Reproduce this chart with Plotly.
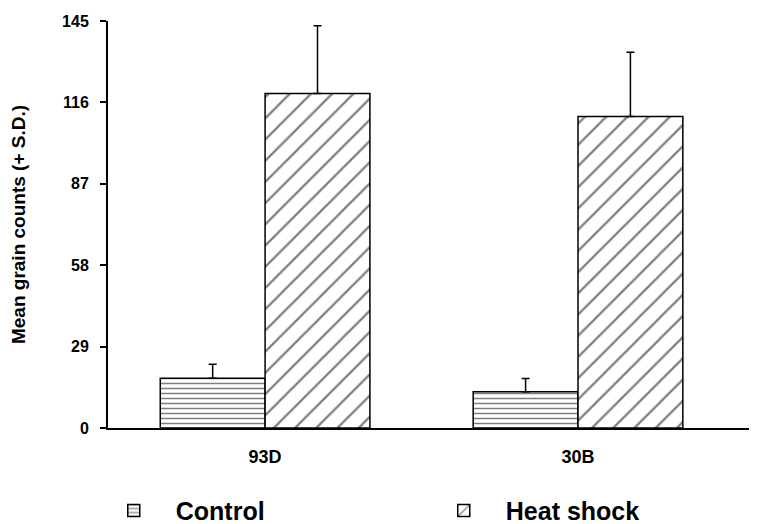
import plotly.graph_objects as go

categories = ["93D", "30B"]
control_mean = [17.7, 12.9]
control_sd = [5.0, 4.7]
heat_mean = [119.2, 111.0]
heat_sd = [24.1, 22.9]
y_ticks = [0, 29, 58, 87, 116, 145]

FONT = "Liberation Sans, Arial, sans-serif"

fig = go.Figure()
fig.add_trace(go.Bar(
    name="Control", x=categories, y=control_mean,
    marker=dict(color="white", line=dict(color="black", width=1.5),
                pattern=dict(shape="-", size=5, solidity=0.3, fgcolor="black", bgcolor="white")),
    error_y=dict(type="data", array=control_sd, arrayminus=[0] * len(control_sd),
                 symmetric=False, color="black", thickness=1.5, width=4),
))
fig.add_trace(go.Bar(
    name="Heat shock", x=categories, y=heat_mean,
    marker=dict(color="white", line=dict(color="black", width=1.5),
                pattern=dict(shape="/", size=15, solidity=0.15, fgcolor="black", bgcolor="white")),
    error_y=dict(type="data", array=heat_sd, arrayminus=[0] * len(heat_sd),
                 symmetric=False, color="black", thickness=1.5, width=4),
))

fig.update_layout(
    width=757, height=524,
    margin=dict(l=100, r=8, t=13, b=104, autoexpand=False),
    paper_bgcolor="white", plot_bgcolor="white",
    barmode="group", bargap=0.33, bargroupgap=0,
    font=dict(family=FONT, color="black"),
    showlegend=True,
    legend=dict(orientation="h", x=-0.025, xanchor="left", y=-0.147, yanchor="top",
                font=dict(size=25, family=FONT, color="black", weight="bold"),
                entrywidth=241, itemwidth=74, traceorder="normal",
                bgcolor="rgba(0,0,0,0)"),
)
fig.update_xaxes(
    type="category", range=[-0.502, 1.572],
    showline=True, linecolor="black", linewidth=2,
    ticks="", showgrid=False, zeroline=False,
    tickfont=dict(size=18, family=FONT, weight="bold"),
    ticklabelstandoff=11,
)
fig.update_yaxes(
    range=[0, 145], tickvals=y_ticks, ticktext=[str(v) for v in y_ticks],
    showline=True, linecolor="black", linewidth=2,
    ticks="outside", ticklen=6, tickwidth=1.5, tickcolor="black",
    showgrid=False, zeroline=False,
    tickfont=dict(size=16, family=FONT, weight="bold"),
    ticklabelstandoff=8,
    title=dict(text="Mean grain counts (+ S.D.)", standoff=34,
               font=dict(size=19, family=FONT, weight="bold")),
)

fig.write_html("out.html")
